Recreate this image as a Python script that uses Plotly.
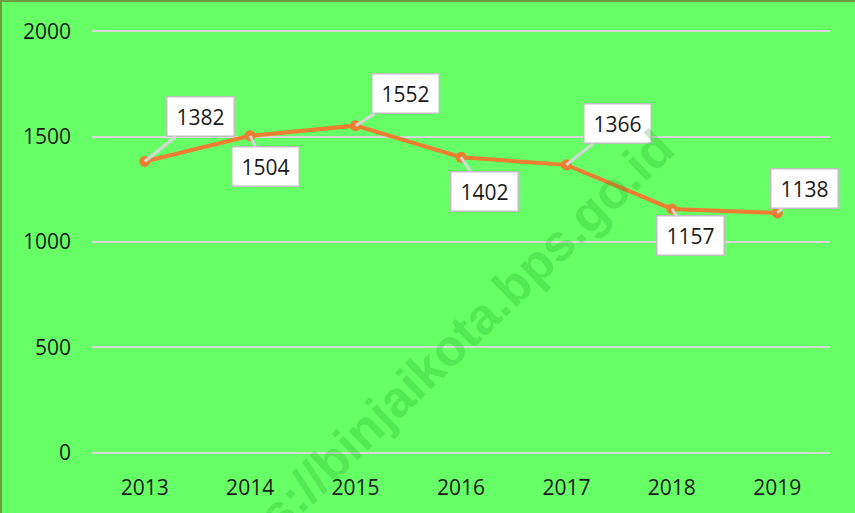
import plotly.graph_objects as go

years = ["2013", "2014", "2015", "2016", "2017", "2018", "2019"]
values = [1382, 1504, 1552, 1402, 1366, 1157, 1138]
y_ticks = [0, 500, 1000, 1500, 2000]
# label offsets (pixels) of each callout box relative to its point
label_dx = [56, 15, 50, 23, 51, 19, 27]
label_dy = [-45, 31, -32, 34, -41, 27, -24]

BG = "#66FF66"
LINE = "#ED7D31"
FONT = "Open Sans"

fig = go.Figure()
fig.add_trace(go.Scatter(
    x=years, y=values, mode="lines+markers",
    line=dict(color=LINE, width=4),
    marker=dict(color=LINE, size=11),
    hoverinfo="skip", showlegend=False,
))

for i, (v, dx, dy) in enumerate(zip(values, label_dx, label_dy)):
    fig.add_annotation(
        x=i, y=v, text=str(v), showarrow=True, ax=dx, ay=dy,
        arrowhead=0, arrowwidth=3, arrowcolor="#D6D6D6",
        bgcolor="white", bordercolor="#BFBFBF", borderwidth=1.5,
        borderpad=2, width=62, height=34,
        font=dict(family=FONT, size=21, color="#1A1A1A"),
    )

# watermark
fig.add_annotation(
    x=0.46, y=0.215, xref="paper", yref="paper", xanchor="center", yanchor="middle",
    text="<b>https://binjaikota.bps.go.id</b>", showarrow=False, textangle=-44,
    font=dict(family="Liberation Sans", size=51, color="rgba(30,160,30,0.24)"),
)

# outer border (left and top)
fig.add_shape(type="rect", xref="paper", yref="paper",
              x0=(1 - 92) / 738, x1=1.2, y0=-0.3, y1=(459 - 1) / 432,
              line=dict(color="#6A9F3C", width=2), layer="below")

fig.update_layout(
    width=855, height=513,
    margin=dict(l=92, r=25, t=27, b=54),
    paper_bgcolor=BG, plot_bgcolor=BG,
    font=dict(family=FONT, size=21, color="#1A1A1A"),
    xaxis=dict(type="category", range=[-0.5, 6.5], showgrid=False,
               zeroline=False, showline=False, ticks="",
               ticklabelstandoff=16, tickfont=dict(size=21)),
    yaxis=dict(range=[-20, 2020], tickvals=y_ticks, showgrid=True,
               gridcolor="#D9D9D9", gridwidth=1.5, zeroline=False,
               showline=False, ticks="", ticklabelstandoff=20,
               tickfont=dict(size=21)),
)

fig.write_html("out.html", config={"displayModeBar": False},
               post_script="document.body.style.margin='0';document.body.style.overflow='hidden';")
